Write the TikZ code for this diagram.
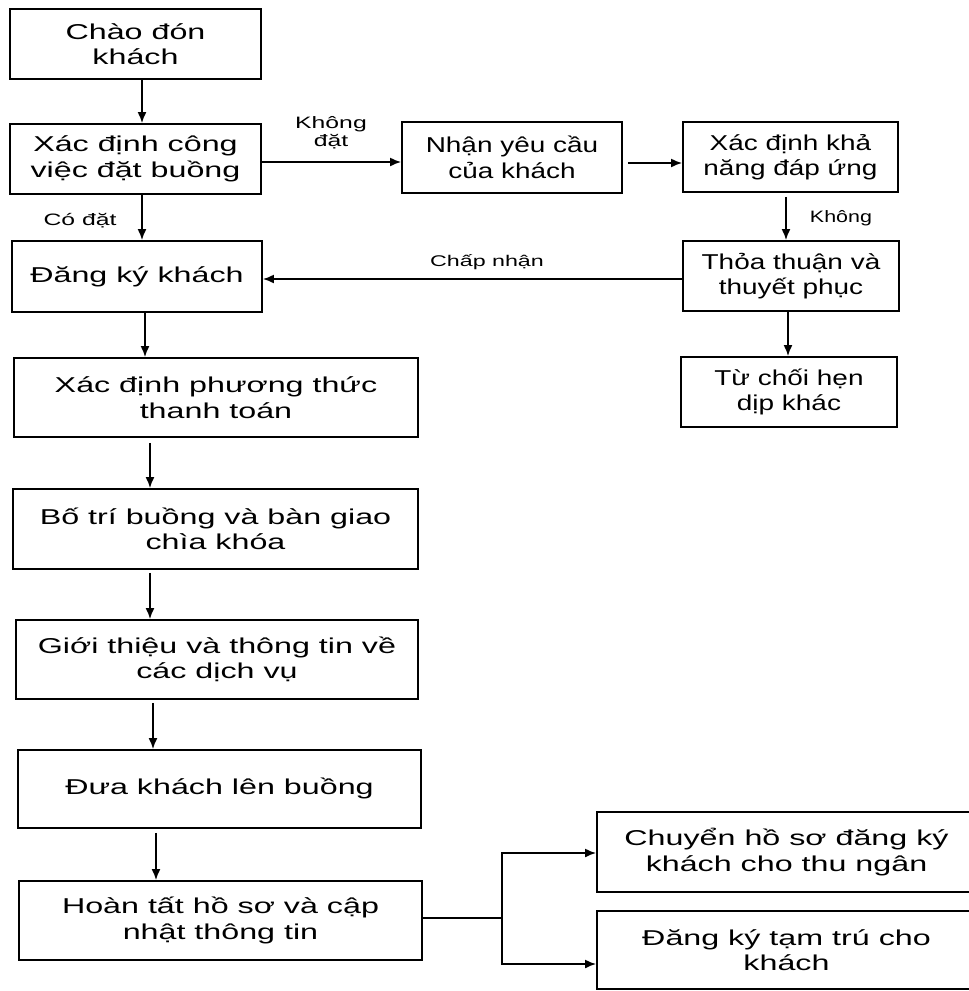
\documentclass[tikz,border=0pt]{standalone}
\usepackage{fontspec}
\setmainfont[FakeStretch=1.5]{Liberation Sans}
\newfontfamily\midfont[FakeStretch=1.3]{Liberation Sans}
\usetikzlibrary{arrows.meta}
\begin{document}
\begin{tikzpicture}[x=1pt,y=-1pt,
  line width=1.8pt,
  box/.style={draw, rectangle, align=center, inner sep=2pt,
    font=\fontsize{21.5}{25.5}\selectfont},
  rbox/.style={box, font=\midfont\fontsize{21.5}{25.5}\selectfont},
  arr/.style={-{Latex[length=11pt,width=9pt]}},
  lbl/.style={align=center, inner sep=0pt, font=\fontsize{16.5}{18}\selectfont}]
\useasboundingbox (0,0) rectangle (969,991);

% main column
\node[box, minimum width=251, minimum height=70] (b1) at (135.5,44) {Chào đón\\khách};
\node[box, minimum width=251, minimum height=70] (b2) at (135.5,159) {Xác định công\\việc đặt buồng};
\node[box, minimum width=250, minimum height=71] (b3) at (137,276.5) {Đăng ký khách};
\node[box, minimum width=404, minimum height=79] (b8) at (216,397.5) {Xác định phương thức\\thanh toán};
\node[box, minimum width=405, minimum height=80] (b9) at (215.5,529) {Bố trí buồng và bàn giao\\chìa khóa};
\node[box, minimum width=402, minimum height=79] (b10) at (217,659.5) {Giới thiệu và thông tin về\\các dịch vụ};
\node[box, minimum width=403, minimum height=78] (b11) at (219.5,789) {\raisebox{5pt}{Đưa khách lên buồng}};
\node[box, minimum width=403, minimum height=79] (b12) at (220.5,920.5) {Hoàn tất hồ sơ và cập\\nhật thông tin};

% branch when no booking exists
\node[rbox, minimum width=220, minimum height=71] (b4) at (512,157.5) {Nhận yêu cầu\\của khách};
\node[rbox, minimum width=215, minimum height=70] (b5) at (790.5,157) {Xác định khả\\năng đáp ứng};
\node[rbox, minimum width=216, minimum height=70] (b6) at (791,276) {Thỏa thuận và\\thuyết phục};
\node[rbox, minimum width=216, minimum height=70] (b7) at (789,392) {Từ chối hẹn\\dịp khác};

% final outputs
\node[box, minimum width=379, minimum height=80] (b13) at (786.5,852) {Chuyển hồ sơ đăng ký\\khách cho thu ngân};
\node[box, minimum width=379, minimum height=78] (b14) at (786.5,950) {Đăng ký tạm trú cho\\khách};

% connectors
\draw[arr] ([xshift=6.5pt]b1.south) -- ([xshift=6.5pt]b1.south |- b2.north);
\draw[arr] ([xshift=6.5pt]b2.south) -- ([xshift=6.5pt]b2.south |- b3.north);
\draw[arr] ([yshift=-3pt]b2.east) -- ([yshift=-3pt]b2.east -| b4.west);
\draw[arr] ([xshift=5pt,yshift=-5.5pt]b4.east) -- ([yshift=-5.5pt]b4.east -| b5.west);
\draw[arr] ([xshift=-4.5pt,yshift=-4pt]b5.south) -- ([xshift=-4.5pt]b5.south |- b6.north);
\draw[arr] ([yshift=-3pt]b6.west) -- ([yshift=-3pt]b6.west -| b3.east);
\draw[arr] ([xshift=-3pt]b6.south) -- ([xshift=-3pt]b6.south |- b7.north);
\draw[arr] ([xshift=8pt]b3.south) -- ([xshift=8pt]b3.south |- b8.north);
\draw[arr] ([xshift=-66pt,yshift=-5pt]b8.south) -- ([xshift=-66pt]b8.south |- b9.north);
\draw[arr] ([xshift=-65.5pt,yshift=-3pt]b9.south) -- ([xshift=-65.5pt]b9.south |- b10.north);
\draw[arr] ([xshift=-64pt,yshift=-3pt]b10.south) -- ([xshift=-64pt]b10.south |- b11.north);
\draw[arr] ([xshift=-63.5pt,yshift=-4pt]b11.south) -- ([xshift=-63.5pt]b11.south |- b12.north);

\coordinate (split) at (502,918);
\draw (b12.east |- split) -- (split);
\draw[arr] (split) |- (b13.west |- 0,853);
\draw[arr] (split) |- (b14.west |- 0,964);

% connector labels
\node[lbl] (lnot) at (331,133) {Không\\đặt};
\node[lbl] (lyes) at (80,221) {Có đặt};
\node[lbl, font=\fontsize{15.5}{18}\selectfont] (lacc) at (487,262) {Chấp nhận};
\node[lbl, font=\midfont\fontsize{16.5}{18}\selectfont] (lno) at (841,218) {Không};
\end{tikzpicture}
\end{document}
